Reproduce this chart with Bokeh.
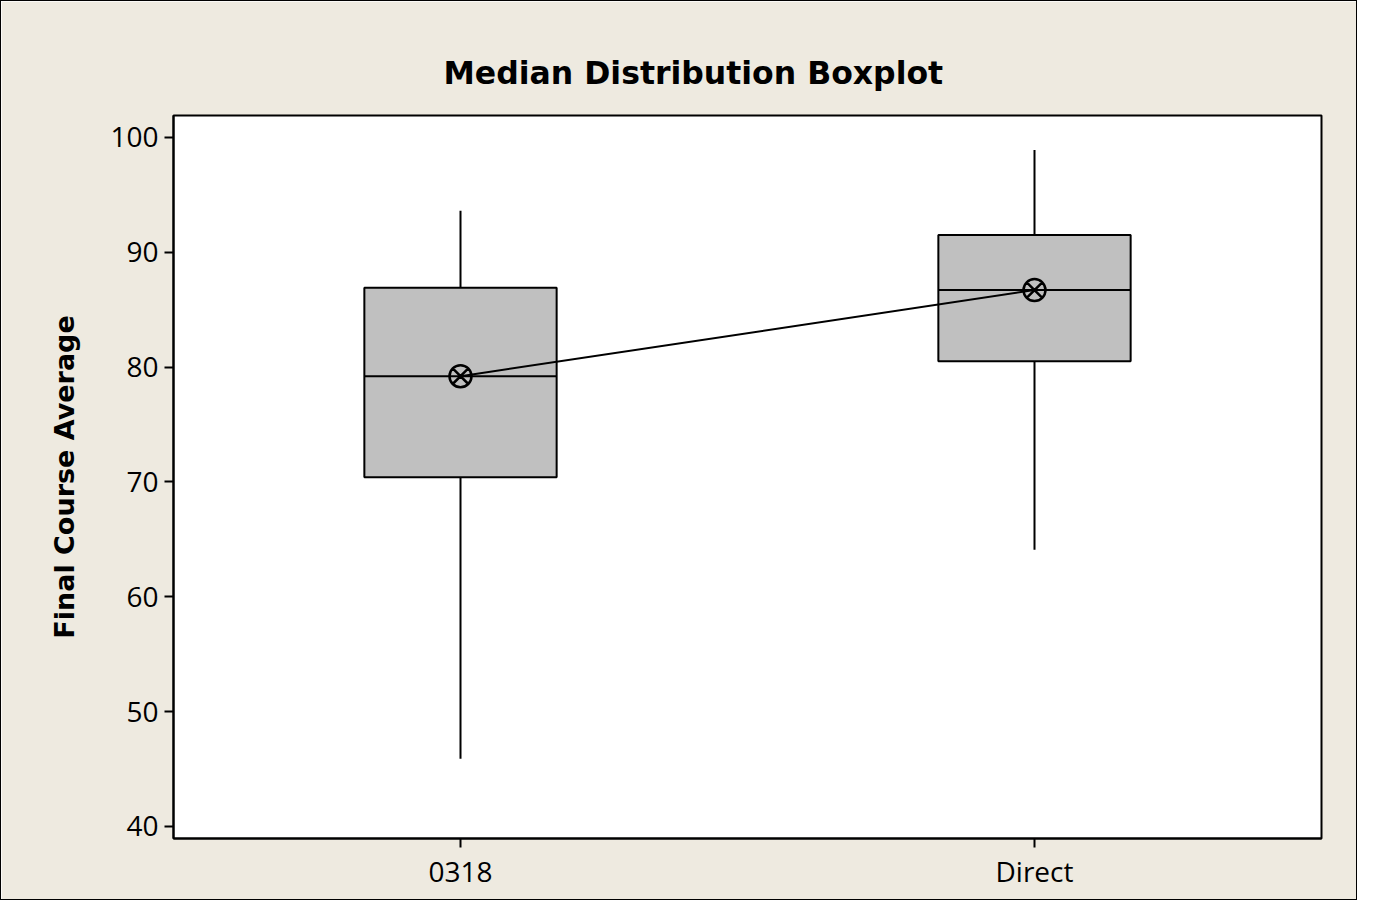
from bokeh.plotting import figure
from bokeh.models import FactorRange, Range1d, ColumnDataSource
from bokeh.transform import dodge
from bokeh.embed import file_html
from bokeh.resources import INLINE

# ---- data ----
groups = ["0318", "Direct"]
lower_whisker = [45.9, 64.1]
q1 = [70.4, 80.5]
median = [79.2, 86.7]
q3 = [86.9, 91.5]
upper_whisker = [93.6, 98.9]
y_ticks = [40, 50, 60, 70, 80, 90, 100]

BG = "#EEEAE0"
BOX_FILL = "#C0C0C0"
FONT = "Open Sans"
BOLD_FONT = "DejaVu Sans"
BOX_W = 0.335

src = ColumnDataSource(dict(g=groups, lo=lower_whisker, q1=q1, med=median,
                            q3=q3, hi=upper_whisker))

p = figure(width=1357, height=900, x_range=FactorRange(*groups, range_padding=0),
           y_range=Range1d(38.95, 101.9), output_backend="svg",
           toolbar_location=None, background_fill_color="white",
           border_fill_color=BG,
           min_border_left=172, min_border_right=37,
           min_border_top=114, min_border_bottom=63)

p.outline_line_color = "black"
p.outline_line_width = 2
p.xgrid.grid_line_color = None
p.ygrid.grid_line_color = None

# whiskers
p.segment(x0="g", y0="lo", x1="g", y1="hi", source=src, line_color="black", line_width=2)
# boxes
p.vbar(x="g", width=BOX_W, bottom="q1", top="q3", source=src,
       fill_color=BOX_FILL, line_color="black", line_width=2)
# median lines
p.segment(x0=dodge("g", -BOX_W / 2, range=p.x_range), y0="med",
          x1=dodge("g", BOX_W / 2, range=p.x_range), y1="med",
          source=src, line_color="black", line_width=2)
# connect line
p.line(x="g", y="med", source=src, line_color="black", line_width=2)
p.scatter(x="g", y="med", source=src, marker="circle_x", size=22,
          fill_color=None, line_color="black", line_width=2.5)

# axes
for ax in (p.xaxis[0], p.yaxis[0]):
    ax.axis_line_color = "black"
    ax.axis_line_width = 2
    ax.major_tick_line_color = "black"
    ax.major_tick_line_width = 2
    ax.major_tick_out = 9
    ax.major_tick_in = 0
    ax.minor_tick_line_color = None
    ax.major_label_text_font = FONT
    ax.major_label_text_font_size = "28px"
    ax.major_label_text_color = "black"

p.yaxis.ticker = y_ticks
p.yaxis.major_label_standoff = 6
p.xaxis.major_label_standoff = 4
p.xaxis.axis_label = None
p.yaxis.axis_label = "Final Course Average"
p.yaxis.axis_label_text_font = BOLD_FONT
p.yaxis.axis_label_text_font_style = "bold"
p.yaxis.axis_label_text_font_size = "27px"
p.yaxis.axis_label_text_color = "black"
p.yaxis.axis_label_standoff = 27

p.title.text = "Median Distribution Boxplot"
p.title.text_font = BOLD_FONT
p.title.text_font_style = "bold"
p.title.text_font_size = "31.5px"
p.title.text_color = "black"
p.title.align = "left"
p.title.offset = 270
p.title.standoff = 50

p.styles = {"border": "1px solid black"}

open("out.html", "w").write(file_html(p, INLINE))
